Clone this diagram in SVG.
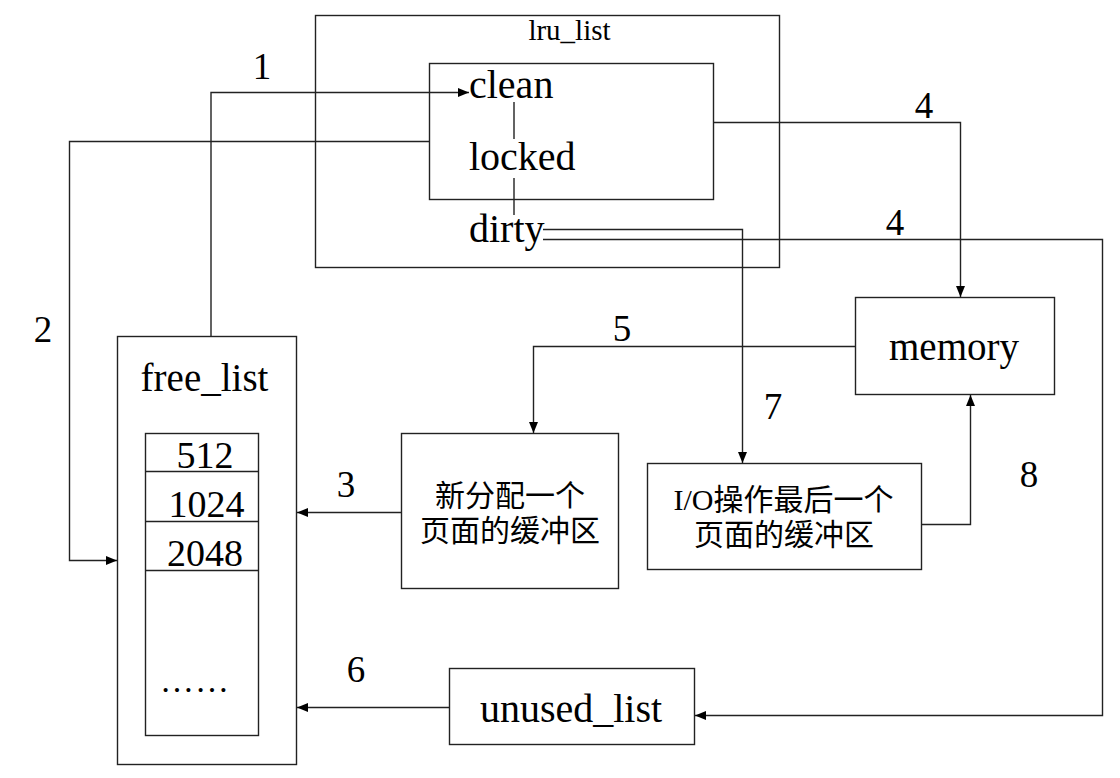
<svg xmlns="http://www.w3.org/2000/svg" width="1120" height="778" viewBox="0 0 1120 778">
<style>
.box{fill:none;stroke:#222;stroke-width:1.4}
.t{font-family:"Liberation Serif","Times New Roman",serif;fill:#000}
.cjk{font-family:"Liberation Serif","Noto Sans CJK SC",serif;fill:#000;font-size:30px}
.lbl{font-family:"Liberation Serif","Times New Roman",serif;fill:#000;font-size:37px;text-anchor:middle}
.c{fill:none;stroke:#222;stroke-width:1.4}
</style>
<defs>
<marker id="ah" markerUnits="userSpaceOnUse" markerWidth="12" markerHeight="10" refX="11" refY="4.5" orient="auto">
<path d="M0,0 L11,4.5 L0,9 z" fill="#000"/>
</marker>
</defs>
<rect width="1120" height="778" fill="#fff"/>

<g id="lru_list">
<rect class="box" x="315.5" y="15.5" width="464" height="252"/>
<text class="t" x="569.5" y="40" font-size="29" text-anchor="middle">lru_list</text>
<rect class="box" x="429.5" y="63.5" width="284" height="136"/>
<text class="t" x="469" y="98" font-size="40">clean</text>
<text class="t" x="469" y="170" font-size="40">locked</text>
<text class="t" x="469" y="242" font-size="40">dirty</text>
<path class="c" d="M514,102 V139 M514,178 V215"/>
</g>

<g id="free_list">
<rect class="box" x="117.5" y="336.5" width="179" height="428"/>
<text class="t" x="204.5" y="391" font-size="39" text-anchor="middle">free_list</text>
<rect class="box" x="145.5" y="433.5" width="113" height="302"/>
<path class="c" d="M145,471.5 H259 M145,521.5 H259 M145,570.5 H259"/>
<text class="t" x="205" y="468" font-size="38" text-anchor="middle">512</text>
<text class="t" x="206.5" y="517" font-size="38" text-anchor="middle">1024</text>
<text class="t" x="205" y="566" font-size="38" text-anchor="middle">2048</text>
<text class="t" x="195" y="692" font-size="34" text-anchor="middle" letter-spacing="1">……</text>
</g>

<g id="memory">
<rect class="box" x="855.5" y="297.5" width="199" height="97"/>
<text class="t" x="954" y="360" font-size="39" text-anchor="middle">memory</text>
</g>

<g id="new_buffer">
<rect class="box" x="401.5" y="433.5" width="217" height="155"/>
<text class="cjk" x="510" y="506" text-anchor="middle">新分配一个</text>
<text class="cjk" x="510" y="541" text-anchor="middle">页面的缓冲区</text>
</g>

<g id="io_buffer">
<rect class="box" x="647.5" y="463.5" width="274" height="106"/>
<text class="cjk" x="783.5" y="510" text-anchor="middle">I/O操作最后一个</text>
<text class="cjk" x="784" y="545" text-anchor="middle">页面的缓冲区</text>
</g>

<g id="unused_list">
<rect class="box" x="449.5" y="668.5" width="245" height="76"/>
<text class="t" x="571" y="722" font-size="40" text-anchor="middle">unused_list</text>
</g>

<g id="connectors">
<path class="c" d="M211,336 V92.5 H469" marker-end="url(#ah)"/>
<path class="c" d="M429,141.5 H69.5 V560.5 H117" marker-end="url(#ah)"/>
<path class="c" d="M714,122.5 H960.5 V297" marker-end="url(#ah)"/>
<path class="c" d="M543,239.5 H1102.5 V715.5 H695" marker-end="url(#ah)"/>
<path class="c" d="M543,229.5 H742.5 V463" marker-end="url(#ah)"/>
<path class="c" d="M855,346.5 H533.5 V433" marker-end="url(#ah)"/>
<path class="c" d="M401,512.5 H297" marker-end="url(#ah)"/>
<path class="c" d="M449,707.5 H297" marker-end="url(#ah)"/>
<path class="c" d="M922,524.5 H970.5 V395" marker-end="url(#ah)"/>
<text class="lbl" x="262" y="79">1</text>
<text class="lbl" x="43" y="342">2</text>
<text class="lbl" x="346" y="497">3</text>
<text class="lbl" x="924" y="118">4</text>
<text class="lbl" x="895" y="235">4</text>
<text class="lbl" x="622" y="341">5</text>
<text class="lbl" x="356" y="682">6</text>
<text class="lbl" x="773" y="419">7</text>
<text class="lbl" x="1029" y="487">8</text>
</g>
</svg>
